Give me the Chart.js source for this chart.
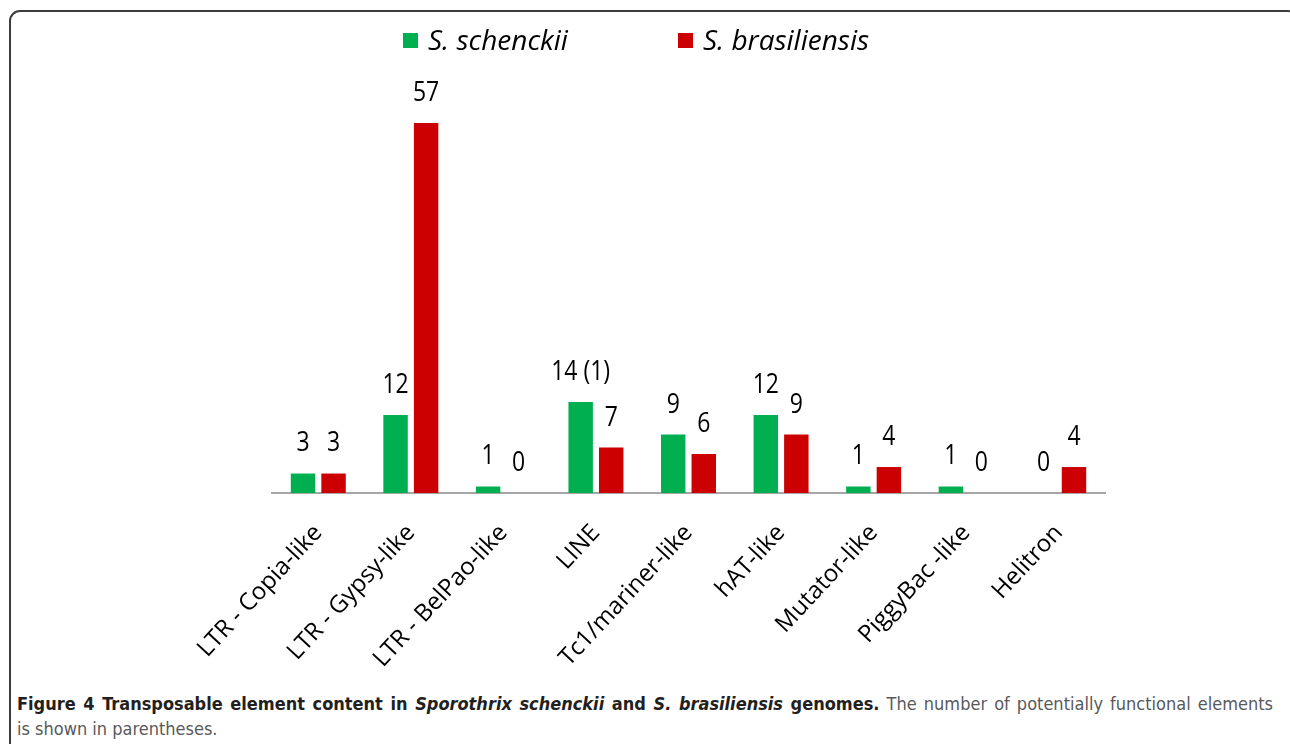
<!DOCTYPE html>
<html>
<head>
<meta charset="utf-8">
<script src="https://cdn.jsdelivr.net/npm/chart.js@4.4.1/dist/chart.umd.min.js"></script>
<style>
  html, body { margin: 0; padding: 0; background: #ffffff; }
  body { width: 1290px; height: 744px; position: relative; overflow: hidden; }
  #frame {
    position: absolute; left: 9px; top: 10px; width: 1290px; height: 760px;
    border: 2px solid #3c3c3c; border-radius: 11px; box-sizing: border-box;
  }
  #wrap { position: absolute; left: 0; top: 0; width: 1290px; height: 690px; }
  #legend { position: absolute; top: 20px; left: 0; width: 1290px; height: 38px;
    font-family: "Open Sans", "Noto Sans", sans-serif; font-style: italic; font-size: 28px; color: #000; }
  .li { position: absolute; top: 0; height: 38px; line-height: 38px; white-space: nowrap; }
  .sw { position: absolute; width: 15px; height: 15px; top: 13px; }
  #caption {
    position: absolute; left: 17px; top: 691px; width: 1256px;
    font-family: "Liberation Sans Narrow", "DejaVu Sans Condensed", "Open Sans", sans-serif;
    font-size: 18px; line-height: 25px; color: #58595b;
  }
  #caption .l1 { display: block; white-space: nowrap; text-align: justify; text-align-last: justify; }
  #caption b { color: #231f20; }
</style>
</head>
<body>
<div id="frame"></div>
<div id="wrap"><canvas id="c" width="1290" height="690"></canvas></div>
<div id="legend"></div>
<div id="caption"><span class="l1"><b>Figure 4 Transposable element content in <i>Sporothrix schenckii</i> and <i>S. brasiliensis</i> genomes.</b> The number of potentially functional elements</span>is shown in parentheses.</div>
<script>
// ---- data ----
const categories = ["LTR - Copia-like", "LTR - Gypsy-like", "LTR - BelPao-like", "LINE",
  "Tc1/mariner-like", "hAT-like", "Mutator-like", "PiggyBac -like", "Helitron"];
const seriesNames = ["S. schenckii", "S. brasiliensis"];
const schenckii = [3, 12, 1, 14, 9, 12, 1, 1, 0];
const brasiliensis = [3, 57, 0, 7, 6, 9, 4, 0, 4];
// potentially functional elements (shown in parentheses)
const schenckiiFunctional = [null, null, null, 1, null, null, null, null, null];
const brasiliensisFunctional = [null, null, null, null, null, null, null, null, null];

const colors = ["#00b050", "#cc0000"];

// ---- legend (HTML) ----
const legendPos = [{box: 403, text: 428}, {box: 678, text: 703}];
const legendEl = document.getElementById('legend');
seriesNames.forEach((n, i) => {
  const sw = document.createElement('div');
  sw.className = 'sw'; sw.style.left = legendPos[i].box + 'px'; sw.style.background = colors[i];
  legendEl.appendChild(sw);
  const t = document.createElement('div');
  t.className = 'li'; t.style.left = legendPos[i].text + 'px'; t.textContent = n;
  legendEl.appendChild(t);
});

// ---- value labels plugin ----
const functionalArrays = [schenckiiFunctional, brasiliensisFunctional];
const valueLabels = {
  id: 'valueLabels',
  afterDatasetsDraw(chart) {
    const ctx = chart.ctx;
    chart.data.datasets.forEach((ds, di) => {
      const meta = chart.getDatasetMeta(di);
      meta.data.forEach((el, i) => {
        const f = functionalArrays[di][i];
        const txt = String(ds.data[i]) + (f != null ? ' (' + f + ')' : '');
        ctx.save();
        ctx.translate(el.x, el.y - 30);
        ctx.scale(0.82, 1);
        ctx.font = '28px "Open Sans", sans-serif';
        ctx.fillStyle = '#000';
        ctx.textAlign = 'center';
        ctx.textBaseline = 'middle';
        ctx.fillText(txt, 0, 0);
        ctx.restore();
      });
    });
  }
};

new Chart(document.getElementById('c'), {
  type: 'bar',
  data: {
    labels: categories,
    datasets: [
      { label: seriesNames[0], data: schenckii, backgroundColor: colors[0] },
      { label: seriesNames[1], data: brasiliensis, backgroundColor: colors[1] }
    ]
  },
  options: {
    responsive: false,
    animation: false,
    events: [],
    layout: { padding: { left: 272, right: 185, top: 123, bottom: 0 } },
    datasets: { bar: { categoryPercentage: 0.66, barPercentage: 0.8 } },
    plugins: { legend: { display: false }, tooltip: { enabled: false } },
    scales: {
      x: {
        grid: { display: false, drawTicks: false },
        border: { display: true, color: '#a6a6a6', width: 2 },
        ticks: {
          color: '#000', minRotation: 47, maxRotation: 47, padding: 26, autoSkip: false,
          font: { family: '"Open Sans", "Noto Sans", sans-serif', size: 24 }
        },
        afterFit(scale) { scale.height = 690 - 493; }
      },
      y: { display: false, min: 0, max: 57 }
    }
  },
  plugins: [valueLabels]
});
</script>
</body>
</html>
